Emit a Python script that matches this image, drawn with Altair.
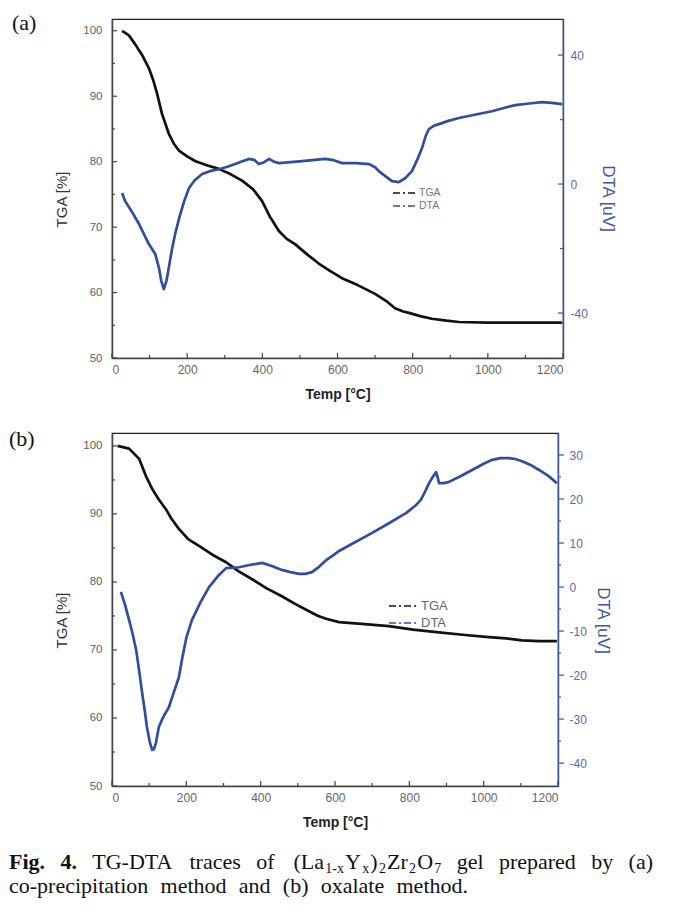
import altair as alt
import pandas as pd

# ---------------- data: panel (a) co-precipitation ----------------
a_tga_T = [27, 45, 61, 80, 98, 110, 120, 133, 151, 165, 178, 200, 221, 250, 284, 315, 346, 375, 399,
           420, 444, 465, 487, 520, 551, 580, 612, 655, 700, 730, 753, 775, 790, 820, 851, 890, 923,
           1000, 1100, 1198]
a_tga_v = [100.0, 99.3, 98.0, 96.3, 94.3, 92.4, 90.4, 87.3, 84.3, 82.7, 81.7, 80.8, 80.1, 79.5, 78.9,
           78.1, 77.1, 75.8, 74.0, 71.6, 69.4, 68.2, 67.4, 65.8, 64.4, 63.3, 62.2, 61.1, 59.8, 58.7,
           57.6, 57.1, 56.9, 56.4, 56.0, 55.7, 55.5, 55.4, 55.4, 55.4]
a_dta_T = [27, 35, 55, 72, 98, 115, 125, 131, 138, 145, 151, 160, 168, 180, 192, 205, 220, 240, 260,
           284, 305, 328, 345, 364, 378, 391, 405, 418, 430, 444, 475, 506, 540, 567, 590, 612, 650,
           684, 700, 710, 728, 745, 763, 780, 798, 812, 825, 835, 843, 855, 870, 895, 923, 965, 1011,
           1040, 1073, 1110, 1144, 1170, 1198]
a_dta_v = [-2.8, -5.3, -9.0, -12.4, -18.6, -21.7, -26.0, -30.0, -32.6, -30.0, -26.0, -20.0, -15.5,
           -10.0, -5.3, -1.2, 1.2, 3.1, 4.0, 4.6, 5.3, 6.2, 7.0, 7.8, 7.5, 6.2, 6.8, 7.8, 7.0, 6.5,
           6.8, 7.1, 7.5, 7.8, 7.4, 6.5, 6.5, 6.2, 5.2, 4.0, 2.4, 0.9, 0.6, 1.8, 4.0, 7.5, 11.2, 15.0,
           17.0, 18.0, 18.6, 19.6, 20.5, 21.5, 22.6, 23.5, 24.5, 25.0, 25.4, 25.2, 24.8]

# ---------------- data: panel (b) oxalate ----------------
b_tga_T = [15, 46, 73, 91, 108, 125, 145, 160, 180, 205, 234, 270, 307, 340, 377, 415, 457, 495, 530,
           555, 576, 611, 680, 745, 810, 880, 950, 1014, 1060, 1103, 1150, 1197]
b_tga_v = [100.0, 99.6, 98.1, 95.6, 93.7, 92.2, 90.7, 89.3, 87.8, 86.3, 85.3, 84.0, 82.9, 81.6, 80.4,
           79.1, 77.9, 76.7, 75.7, 75.0, 74.6, 74.1, 73.8, 73.5, 73.0, 72.6, 72.2, 71.9, 71.7, 71.4,
           71.3, 71.3]
b_dta_T = [24, 35, 46, 55, 65, 73, 81, 88, 94, 101, 108, 113, 118, 126, 138, 153, 166, 180, 188, 200,
           215, 238, 261, 285, 307, 342, 370, 404, 430, 457, 480, 503, 520, 538, 557, 576, 595, 611,
           650, 700, 745, 791, 815, 831, 843, 853, 863, 872, 876, 880, 893, 907, 940, 969, 1000, 1023,
           1045, 1068, 1085, 1103, 1125, 1149, 1175, 1197]
b_dta_v = [-1.1, -4.0, -7.5, -10.5, -14.3, -19.0, -24.0, -28.0, -31.8, -35.0, -37.0, -36.8, -35.5,
           -31.8, -29.5, -27.3, -24.0, -20.5, -16.6, -11.5, -7.5, -3.5, 0.0, 2.5, 4.3, 4.5, 5.0, 5.5,
           4.8, 3.9, 3.4, 3.0, 3.0, 3.4, 4.6, 6.1, 7.2, 8.2, 10.0, 12.3, 14.5, 16.8, 18.4, 19.8, 21.8,
           23.6, 25.0, 26.1, 25.0, 23.6, 23.6, 23.9, 25.3, 26.6, 28.0, 28.9, 29.3, 29.3, 29.1, 28.6,
           27.8, 26.6, 25.2, 23.6]

# ---------------- tick values ----------------
x_major = [0, 200, 400, 600, 800, 1000, 1200]
x_minor = [100, 300, 500, 700, 900, 1100]
tga_major = [50, 60, 70, 80, 90, 100]
tga_minor = [55, 65, 75, 85, 95]
a_dta_major = [-40, 0, 40]
a_dta_minor = [-20, 20]
b_dta_major = [-40, -30, -20, -10, 0, 10, 20, 30]
b_dta_minor = [-35, -25, -15, -5, 5, 15, 25]

# ---------------- caption text ----------------
# each word: list of (text, is_subscript, is_bold)
caption_line1 = [
    [("Fig.", False, True)], [("4.", False, True)], [("TG-DTA", False, False)],
    [("traces", False, False)], [("of", False, False)],
    [("(La", False, False), ("1-x", True, False), ("Y", False, False), ("x", True, False),
     (")", False, False), ("2", True, False), ("Zr", False, False), ("2", True, False),
     ("O", False, False), ("7", True, False)],
    [("gel", False, False)], [("prepared", False, False)], [("by", False, False)], [("(a)", False, False)],
]
caption_line2 = [
    [("co-precipitation", False, False)], [("method", False, False)], [("and", False, False)],
    [("(b)", False, False)], [("oxalate", False, False)], [("method.", False, False)],
]

SANS = "Liberation Sans"
SERIF = "Liberation Serif"
BLACK = "#111111"
BLUE = "#2f4f9e"
BLUE_AX = "#3b56a3"
BLUE_LBL = "#5a69ad"
GREY_AX = "#444444"
MINUS = "datum.value < 0 ? '-' + abs(datum.value) : '' + datum.value"
PLAIN = "'' + datum.value"
DASH = [7, 3, 2, 3]
PIECE_GAP = 1.2

ONE = pd.DataFrame({"k": [0]})

# Times (Liberation Serif) advance widths per 1000 em, used only to justify the caption
_TW = {" ": 250, "(": 333, ")": 333, "-": 333, ".": 250, "A": 722, "D": 722, "F": 556, "G": 722,
       "L": 611, "O": 722, "T": 611, "Y": 722, "Z": 611, "a": 444, "b": 500, "c": 444, "d": 500,
       "e": 444, "g": 500, "h": 500, "i": 278, "l": 278, "m": 778, "n": 500, "o": 500, "p": 500,
       "r": 333, "s": 389, "t": 278, "x": 500, "y": 500}
_TWB = {"F": 611, "i": 278, "g": 500, ".": 250}


def tw(txt, size, bold=False):
    tot = 0
    for ch in txt:
        if ch.isdigit():
            tot += 500
        elif bold and ch in _TWB:
            tot += _TWB[ch]
        else:
            tot += _TW.get(ch, 500)
    return tot * size / 1000.0


def text_mark(txt, x, y, size, font=SANS, color="#222", weight="normal", baseline="middle", align="left"):
    return alt.Chart(ONE).mark_text(
        text=txt, font=font, fontSize=size, color=color, fontWeight=weight,
        baseline=baseline, align=align,
    ).encode(x=alt.value(x), y=alt.value(y))


def legend_rule(x1, x2, y, color):
    return alt.Chart(ONE).mark_rule(color=color, strokeWidth=1.6, strokeDash=DASH).encode(
        x=alt.value(x1), x2=alt.value(x2), y=alt.value(y))


def caption_marks(words, x0, x1, y, size, sub_size, origin_x):
    def piece_w(t, s, b):
        return tw(t, sub_size if s else size, b)

    widths = [sum(piece_w(*p) for p in w) + PIECE_GAP * (len(w) - 1) for w in words]
    gap = (x1 - x0 - sum(widths)) / (len(words) - 1)
    marks = []
    x = x0
    for w, wd in zip(words, widths):
        cx = x
        for t, s, b in w:
            sz = sub_size if s else size
            marks.append(text_mark(t, cx - origin_x, y + (4 if s else 0), sz, font=SERIF,
                                   color="#111", weight="bold" if b else "normal",
                                   baseline="alphabetic"))
            cx += piece_w(t, s, b) + PIECE_GAP
        x += wd + gap
    return marks


def panel(tgaT, tgaV, dtaT, dtaV, tga_dom, dta_dom, W, H, dta_major, dta_minor,
          dta_out, dta_lpad, tga_title_y, dta_title_y, extras):
    xs = alt.Scale(domain=[0, 1200], nice=False, zero=False)
    ts = alt.Scale(domain=tga_dom, nice=False, zero=False)
    ds = alt.Scale(domain=dta_dom, nice=False, zero=False)

    x_axis = alt.Axis(orient="bottom", values=x_major, labelExpr=PLAIN, title="Temp [°C]",
                      titleX=W / 2, titleY=36, titleBaseline="middle", titleAlign="center",
                      titleFontSize=14, titleFontWeight="bold", titleColor="#222", titleFont=SANS,
                      labelFont=SANS, labelFontSize=12, labelColor="#666", labelPadding=6,
                      tickSize=0, domainColor=GREY_AX, domainWidth=1.5, grid=False)
    y_axis = alt.Axis(orient="left", values=tga_major, labelExpr=PLAIN, title="TGA [%]", titleX=-51,
                      titleY=tga_title_y, titleAngle=270, titleBaseline="middle",
                      titleAlign="center", titleFontSize=15, titleFontWeight="normal",
                      titleColor="#333", titleFont=SANS, labelFont=SANS, labelFontSize=11.5,
                      labelColor="#6b5d5d", labelPadding=10, tickSize=0, domainColor=GREY_AX,
                      domainWidth=1.5, grid=False)
    d_axis = alt.Axis(orient="right", values=dta_major, labelExpr=MINUS, title="DTA [uV]",
                      titleX=44, titleY=dta_title_y, titleAngle=90, titleBaseline="middle",
                      titleAlign="center", titleFontSize=17, titleFontWeight="normal",
                      titleColor=BLUE_AX, titleFont=SANS, labelFont=SANS, labelFontSize=12,
                      labelColor=BLUE_LBL, labelPadding=dta_lpad, tickSize=0,
                      domainColor=BLUE_AX, domainWidth=1.5, grid=False)

    df_t = pd.DataFrame({"T": tgaT, "v": tgaV})
    df_d = pd.DataFrame({"T": dtaT, "v": dtaV})

    tga_line = alt.Chart(df_t).mark_line(color=BLACK, strokeWidth=2.7, strokeJoin="round").encode(
        x=alt.X("T:Q", scale=xs, axis=x_axis), y=alt.Y("v:Q", scale=ts, axis=y_axis))
    dta_line = alt.Chart(df_d).mark_line(color=BLUE, strokeWidth=2.7, strokeJoin="round").encode(
        x=alt.X("T:Q", scale=xs, axis=x_axis), y=alt.Y("v:Q", scale=ds, axis=d_axis))

    def yticks(vals, length):
        return alt.Chart(pd.DataFrame({"v": vals})).mark_rule(color=GREY_AX, strokeWidth=1.2).encode(
            y=alt.Y("v:Q", scale=ts, axis=None), x=alt.value(0), x2=alt.value(length))

    def xticks(vals, length):
        return alt.Chart(pd.DataFrame({"T": vals})).mark_rule(color=GREY_AX, strokeWidth=1.2).encode(
            x=alt.X("T:Q", scale=xs, axis=x_axis), y=alt.value(H), y2=alt.value(H - length))

    def dticks(vals, length):
        x2 = W + length if dta_out else W - length
        return alt.Chart(pd.DataFrame({"v": vals})).mark_rule(color=BLUE_AX, strokeWidth=1.2).encode(
            y=alt.Y("v:Q", scale=ds, axis=None), x=alt.value(W), x2=alt.value(x2))

    layers = [tga_line, dta_line,
              yticks(tga_major, 5), yticks(tga_minor, 3),
              dticks(dta_major, 6 if dta_out else 5), dticks(dta_minor, 3),
              xticks(x_major, 5), xticks(x_minor, 3)] + extras
    return alt.layer(*layers).resolve_scale(y="independent").properties(width=W, height=H)


# ---------------- panel (a) ----------------
WA, HA = 451, 339
extras_a = [
    text_mark("(a)", -100, 4, 22, font=SERIF, color="#111"),
    legend_rule(281, 304, 174, BLACK),
    legend_rule(281, 304, 187, BLUE),
    text_mark("TGA", 307, 174, 10.5, color="#777"),
    text_mark("DTA", 307, 187, 10.5, color="#777"),
]
pa = panel(a_tga_T, a_tga_v, a_dta_T, a_dta_v, [50, 101.8], [-53.95, 51.2], WA, HA,
           a_dta_major, a_dta_minor, False, 7, 180, 179, extras_a)

# ---------------- panel (b) + caption ----------------
WB, HB = 446, 353
PLB = 113
extras_b = [
    text_mark("(b)", -103, 6, 22, font=SERIF, color="#111"),
    legend_rule(277, 307, 173, BLACK),
    legend_rule(277, 307, 190, BLUE),
    text_mark("TGA", 309, 173, 13, color="#666"),
    text_mark("DTA", 309, 190, 13, color="#666"),
]
extras_b += caption_marks(caption_line1, 10, 654, 436, 22, 14, PLB)
extras_b += caption_marks(caption_line2, 10, 469, 460, 22, 14, PLB)

pb = panel(b_tga_T, b_tga_v, b_dta_T, b_dta_v, [50, 101.9], [-45.2, 35], WB, HB,
           b_dta_major, b_dta_minor, True, 11, 187, 187, extras_b)

chart = alt.concat(pa, pb, columns=1, spacing=25, align="none").properties(
    padding={"left": 0, "top": 3, "right": 0, "bottom": 0}, background="white"
).configure_view(stroke="#222", strokeWidth=1.2)

chart.save("out.html", embed_options={"renderer": "svg", "actions": False})
